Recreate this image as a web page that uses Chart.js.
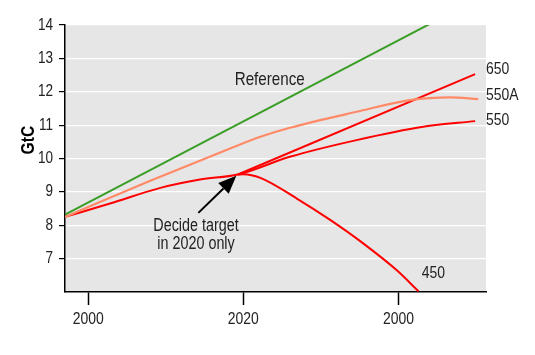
<!DOCTYPE html>
<html>
<head>
<meta charset="utf-8">
<script src="https://cdn.jsdelivr.net/npm/chart.js@4/dist/chart.umd.min.js"></script>
<style>
  html, body { margin: 0; padding: 0; background: #ffffff; }
  canvas { display: block; }
</style>
</head>
<body>
<canvas id="c" width="535" height="355"></canvas>
<script>
// ---- data ----
const referenceYears = [1997, 2044.2];
const referenceValues = [8.32, 14.05];

const s550AYears = [1997, 2008, 2018.3, 2022.2, 2026, 2034.6, 2041.5, 2046.7, 2050.3];
const s550AValues = [8.25, 9.33, 10.3, 10.65, 10.92, 11.4, 11.75, 11.83, 11.78];

const s550Years = [1997, 2002.8, 2009.3, 2014.4, 2019.3, 2026, 2034.6, 2043.2, 2049.9];
const s550Values = [8.25, 8.65, 9.12, 9.37, 9.52, 10.05, 10.55, 10.95, 11.12];

const s650Years = [2019.3, 2049.9];
const s650Values = [9.52, 12.53];

const s450Years = [2019.3, 2020, 2022.2, 2026.9, 2031.2, 2035.5, 2039.8, 2042.6];
const s450Values = [9.52, 9.53, 9.42, 8.8, 8.16, 7.45, 6.65, 6.02];

const xTickYears = [2000, 2020, 2040];
const xTickLabels = ['2000', '2020', '2000'];
const yTickValues = [7, 8, 9, 10, 11, 12, 13, 14];

const seriesNames = ['Reference', '550A', '550', '650', '450'];
const yAxisTitle = 'GtC';
const noteLines = ['Decide target', 'in 2020 only'];

// ---- build ----
const pts = (xs, ys) => xs.map((x, i) => ({ x: x, y: ys[i] }));
const FONT = "'Liberation Sans', Arial, sans-serif";
const TEXT = '#222222';
const NARROW = 0.82; // horizontal condensing of all text (reference uses a narrow face)

const canvas = document.getElementById('c');
const ctx2d = canvas.getContext('2d');
ctx2d.fillText = function (t, x, y, maxW) {
  this.save();
  this.translate(x, y);
  this.scale(NARROW, 1);
  if (maxW === undefined) CanvasRenderingContext2D.prototype.fillText.call(this, t, 0, 0);
  else CanvasRenderingContext2D.prototype.fillText.call(this, t, 0, 0, maxW / NARROW);
  this.restore();
};

const bgPlugin = {
  id: 'bg',
  beforeDraw(chart) {
    const { ctx, chartArea: a } = chart;
    ctx.save();
    ctx.fillStyle = '#e6e6e6';
    ctx.fillRect(a.left, a.top, a.right - a.left, a.bottom - a.top);
    ctx.restore();
  }
};

const annotations = {
  seriesLabels: [
    { text: seriesNames[0], x: 2023.4, y: 12.35, align: 'center', size: 18.5 },
    { text: seriesNames[3], x: null, y: 12.68, align: 'left', size: 17 },
    { text: seriesNames[1], x: null, y: 11.885, align: 'left', size: 17 },
    { text: seriesNames[2], x: null, y: 11.15, align: 'left', size: 17 },
    { text: seriesNames[4], x: 2043.0, y: 6.56, align: 'left', size: 17 }
  ],
  note: { x: 2013.9, y: 7.97, lineGap: 0.54 },
  arrow: { fromX: 2014.2, fromY: 8.37, toX: 2019.1, toY: 9.48 }
};

const annotPlugin = {
  id: 'annot',
  afterDraw(chart) {
    const { ctx, chartArea: a } = chart;
    const xs = chart.scales.x, ys = chart.scales.y;
    ctx.save();
    ctx.fillStyle = TEXT;
    ctx.textBaseline = 'middle';
    annotations.seriesLabels.forEach(l => {
      ctx.font = l.size + 'px ' + FONT;
      ctx.textAlign = l.align;
      const px = l.x === null ? a.right : xs.getPixelForValue(l.x);
      ctx.fillText(l.text, px, ys.getPixelForValue(l.y));
    });
    // note
    ctx.font = '17.5px ' + FONT;
    ctx.textAlign = 'center';
    noteLines.forEach((t, i) => {
      ctx.fillText(t, xs.getPixelForValue(annotations.note.x),
        ys.getPixelForValue(annotations.note.y - i * annotations.note.lineGap));
    });
    // arrow
    const ar = annotations.arrow;
    const x1 = xs.getPixelForValue(ar.fromX), y1 = ys.getPixelForValue(ar.fromY);
    const x2 = xs.getPixelForValue(ar.toX), y2 = ys.getPixelForValue(ar.toY);
    const ang = Math.atan2(y2 - y1, x2 - x1);
    const headLen = 18, headW = 7.5;
    const bx = x2 - headLen * Math.cos(ang), by = y2 - headLen * Math.sin(ang);
    ctx.strokeStyle = '#000';
    ctx.lineWidth = 2;
    ctx.beginPath();
    ctx.moveTo(x1, y1);
    ctx.lineTo(bx, by);
    ctx.stroke();
    ctx.fillStyle = '#000';
    ctx.beginPath();
    ctx.moveTo(x2, y2);
    ctx.lineTo(bx + headW * Math.sin(ang), by - headW * Math.cos(ang));
    ctx.lineTo(bx - headW * Math.sin(ang), by + headW * Math.cos(ang));
    ctx.closePath();
    ctx.fill();
    // y axis title
    ctx.fillStyle = '#000';
    ctx.font = 'bold 19px ' + FONT;
    ctx.translate(28.5, ys.getPixelForValue(10.55));
    ctx.rotate(-Math.PI / 2);
    ctx.textAlign = 'center';
    ctx.fillText(yAxisTitle, 0, 0);
    ctx.restore();
  }
};

const lineDs = (label, data, color, width, curved) => ({
  label, data, borderColor: color, backgroundColor: color,
  borderWidth: width, pointRadius: 0, fill: false,
  cubicInterpolationMode: curved ? 'monotone' : 'default', tension: 0
});

new Chart(ctx2d, {
  type: 'line',
  data: {
    datasets: [
      lineDs(seriesNames[0], pts(referenceYears, referenceValues), '#3a9e27', 2, false),
      lineDs(seriesNames[1], pts(s550AYears, s550AValues), '#ff8a68', 2.2, true),
      lineDs(seriesNames[4], pts(s450Years, s450Values), '#ff0000', 2, true),
      lineDs(seriesNames[3], pts(s650Years, s650Values), '#ff0000', 2, false),
      lineDs(seriesNames[2], pts(s550Years, s550Values), '#ff0000', 2, true)
    ]
  },
  options: {
    responsive: false,
    animation: false,
    devicePixelRatio: 1,
    layout: { padding: { top: 25, right: 49, left: 0, bottom: 0 } },
    plugins: { legend: { display: false }, tooltip: { enabled: false }, title: { display: false } },
    scales: {
      x: {
        type: 'linear',
        min: 1997,
        max: 2051.3,
        afterFit: s => { s.height = 63; },
        afterBuildTicks: s => { s.ticks = xTickYears.map(v => ({ value: v })); },
        ticks: {
          autoSkip: false, maxRotation: 0, padding: 4,
          color: TEXT, font: { family: FONT, size: 17 },
          callback: (v) => xTickLabels[xTickYears.indexOf(v)]
        },
        grid: { drawOnChartArea: false, tickLength: 13, tickColor: '#000', tickWidth: 1.5 },
        border: { color: '#000', width: 1.5 }
      },
      y: {
        type: 'linear',
        min: 6,
        max: 14,
        afterFit: s => { s.width = 65; },
        afterBuildTicks: s => { s.ticks = yTickValues.map(v => ({ value: v })); },
        ticks: { padding: 6, color: TEXT, font: { family: FONT, size: 16.5 } },
        grid: { color: '#ffffff', lineWidth: 1.2, tickLength: 6, tickColor: '#000', tickWidth: 1.2 },
        border: { color: '#000', width: 1.5 }
      }
    }
  },
  plugins: [bgPlugin, annotPlugin]
});
</script>
</body>
</html>
